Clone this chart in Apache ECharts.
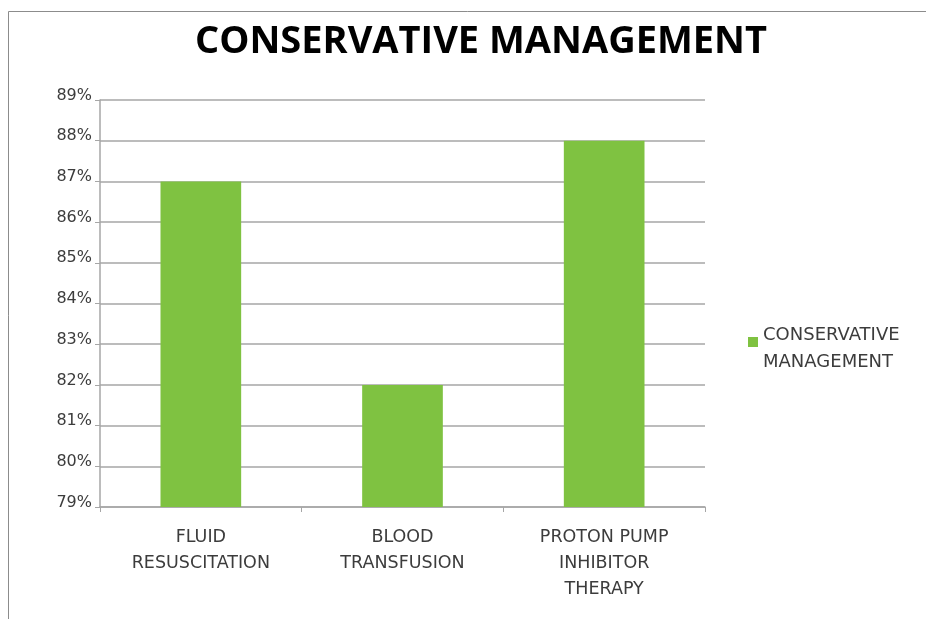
<!DOCTYPE html>
<html>
<head>
<meta charset="utf-8">
<script src="https://cdn.jsdelivr.net/npm/echarts@6/dist/echarts.min.js"></script>
<style>
  html, body { margin: 0; padding: 0; background: #fff; }
  #chart { width: 926px; height: 619px; }
</style>
</head>
<body>
<div id="chart"></div>
<script>
// Share of patients receiving each conservative measure (percent)
const categories = ['FLUID\nRESUSCITATION', 'BLOOD\nTRANSFUSION', 'PROTON PUMP\nINHIBITOR\nTHERAPY'];
const seriesName = 'CONSERVATIVE MANAGEMENT';
const values = [87, 82, 88];
const yMin = 79;
const yMax = 89;
const yStep = 1;

const textColor = '#3c3c3c';
const lineColor = '#a6a6a6';
const font = 'DejaVu Sans';

const chart = echarts.init(document.getElementById('chart'));
chart.setOption({
  backgroundColor: '#fff',
  animation: false,
  title: {
    text: 'CONSERVATIVE MANAGEMENT',
    left: 476,
    textAlign: 'center',
    top: 18,
    textStyle: { fontFamily: 'Open Sans', fontWeight: 'bold', fontSize: 38, color: '#000' }
  },
  graphic: [{
    type: 'polyline',
    shape: { points: [[8.5, 640], [8.5, 11.5], [940, 11.5]] },
    style: { stroke: '#8c8c8c', lineWidth: 1, fill: null },
    silent: true
  }],
  legend: {
    left: 743,
    top: 305,
    itemWidth: 10,
    itemHeight: 10,
    itemGap: 4,
    icon: 'rect',
    // a spacer line above keeps the swatch level with the first line of the name
    formatter: () => '{s| }\n{a|CONSERVATIVE}\n{a|MANAGEMENT}',
    textStyle: {
      fontFamily: font, fontSize: 18, color: textColor,
      rich: {
        s: { lineHeight: 13, fontSize: 10 },
        a: { fontFamily: font, fontSize: 18, color: textColor, lineHeight: 27 }
      }
    }
  },
  grid: { left: 100, right: 221, top: 100, bottom: 112, containLabel: false },
  xAxis: {
    type: 'category',
    data: categories,
    axisLine: { lineStyle: { color: lineColor, width: 1.5 } },
    axisTick: { show: true, length: 5, inside: false, lineStyle: { color: lineColor } },
    axisLabel: { fontFamily: font, fontSize: 17.5, color: textColor, lineHeight: 26, margin: 17, interval: 0 }
  },
  yAxis: {
    type: 'value',
    min: yMin,
    max: yMax,
    interval: yStep,
    axisLine: { show: true, lineStyle: { color: lineColor, width: 1.5 } },
    axisTick: { show: true, length: 5, lineStyle: { color: lineColor } },
    splitLine: { lineStyle: { color: lineColor, width: 1.5 } },
    axisLabel: {
      formatter: '{value}%', fontFamily: font, fontSize: 16, color: textColor, margin: 8,
      verticalAlign: 'bottom', lineHeight: 9
    }
  },
  series: [{
    name: seriesName,
    type: 'bar',
    data: values,
    barWidth: '40%',
    itemStyle: { color: '#7fc241' }
  }]
});
</script>
</body>
</html>
